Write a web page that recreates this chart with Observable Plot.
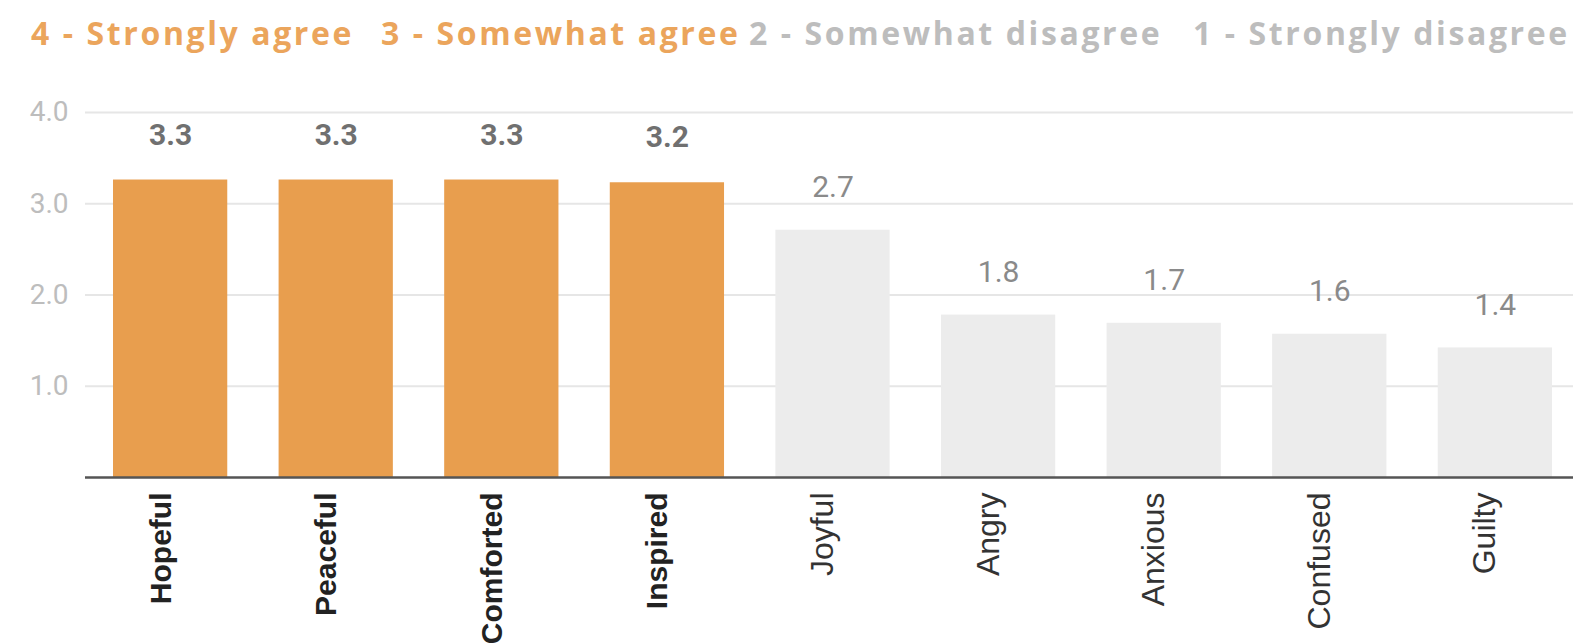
<!DOCTYPE html>
<html>
<head>
<meta charset="utf-8">
<script src="https://cdn.jsdelivr.net/npm/d3@7"></script>
<script src="https://cdn.jsdelivr.net/npm/@observablehq/plot@0.6"></script>
<style>
  html, body { margin: 0; padding: 0; background: #fff; }
  #legend { position: relative; width: 1582px; height: 64px; font-family: "Open Sans", sans-serif; font-weight: 700; font-size: 32px; letter-spacing: 2.6px; }
  #legend span { position: absolute; top: 14px; line-height: 38px; white-space: nowrap; }
</style>
</head>
<body>
<div id="legend"></div>
<div id="chart"></div>
<script>
const categories = ["Hopeful", "Peaceful", "Comforted", "Inspired", "Joyful", "Angry", "Anxious", "Confused", "Guilty"];
const values = [3.26, 3.26, 3.26, 3.23, 2.71, 1.78, 1.69, 1.57, 1.42];
const groups = ["agree", "agree", "agree", "agree", "disagree", "disagree", "disagree", "disagree", "disagree"];
const legendLabels = ["4 - Strongly agree", "3 - Somewhat agree", "2 - Somewhat disagree", "1 - Strongly disagree"];
const legendGroups = ["agree", "agree", "disagree", "disagree"];
const yTicks = [1, 2, 3, 4];

const barColor = {agree: "#E89E4E", disagree: "#ECECEC"};
const legendColor = {agree: "#EBA55C", disagree: "#BDBDBD"};
const legendLeft = [31, 381, 749, 1193];

const legend = document.getElementById("legend");
legendLabels.forEach((t, i) => {
  const s = document.createElement("span");
  s.textContent = t;
  s.style.left = legendLeft[i] + "px";
  s.style.color = legendColor[legendGroups[i]];
  legend.appendChild(s);
});

const data = categories.map((c, i) => ({category: c, value: values[i], group: groups[i]}));
const agree = data.filter(d => d.group === "agree");
const disagree = data.filter(d => d.group === "disagree");
const fmt = d3.format(".1f");

const chart = Plot.plot({
  width: 1582,
  height: 580,
  marginTop: 48,
  marginBottom: 167,
  marginLeft: 85,
  marginRight: 9,
  style: {fontFamily: "Roboto, sans-serif", background: "#fff"},
  x: {domain: categories, range: [113, 1552], paddingInner: 0.31, paddingOuter: 0, round: false, axis: null},
  y: {domain: [0, 4], axis: null},
  marks: [
    Plot.ruleY(yTicks, {stroke: "#E6E6E6", strokeWidth: 2}),
    Plot.barY(data, {x: "category", y: "value", fill: d => barColor[d.group]}),
    Plot.ruleY([0], {stroke: "#555", strokeWidth: 2.5}),
    Plot.axisY(yTicks, {tickSize: 0, tickPadding: 17, tickFormat: fmt, fontSize: 28, fill: "#BDBDBD", label: null}),
    Plot.text(agree, {x: "category", y: "value", text: d => fmt(d.value), dy: -45, fontSize: 30, fontWeight: "bold", fill: "#707070"}),
    Plot.text(disagree, {x: "category", y: "value", text: d => fmt(d.value), dy: -43, fontSize: 30, fill: "#8A8A8A"}),
    Plot.text(agree, {x: "category", frameAnchor: "bottom", text: "category", rotate: -90, textAnchor: "end", dy: 15, fontSize: 30, fontWeight: "bold", fill: "#222", fontFamily: "Liberation Sans, Arial, sans-serif"}),
    Plot.text(disagree, {x: "category", frameAnchor: "bottom", text: "category", rotate: -90, textAnchor: "end", dy: 15, fontSize: 32, fill: "#333", fontFamily: "Liberation Sans, Arial, sans-serif"})
  ]
});
document.getElementById("chart").appendChild(chart);
</script>
</body>
</html>
